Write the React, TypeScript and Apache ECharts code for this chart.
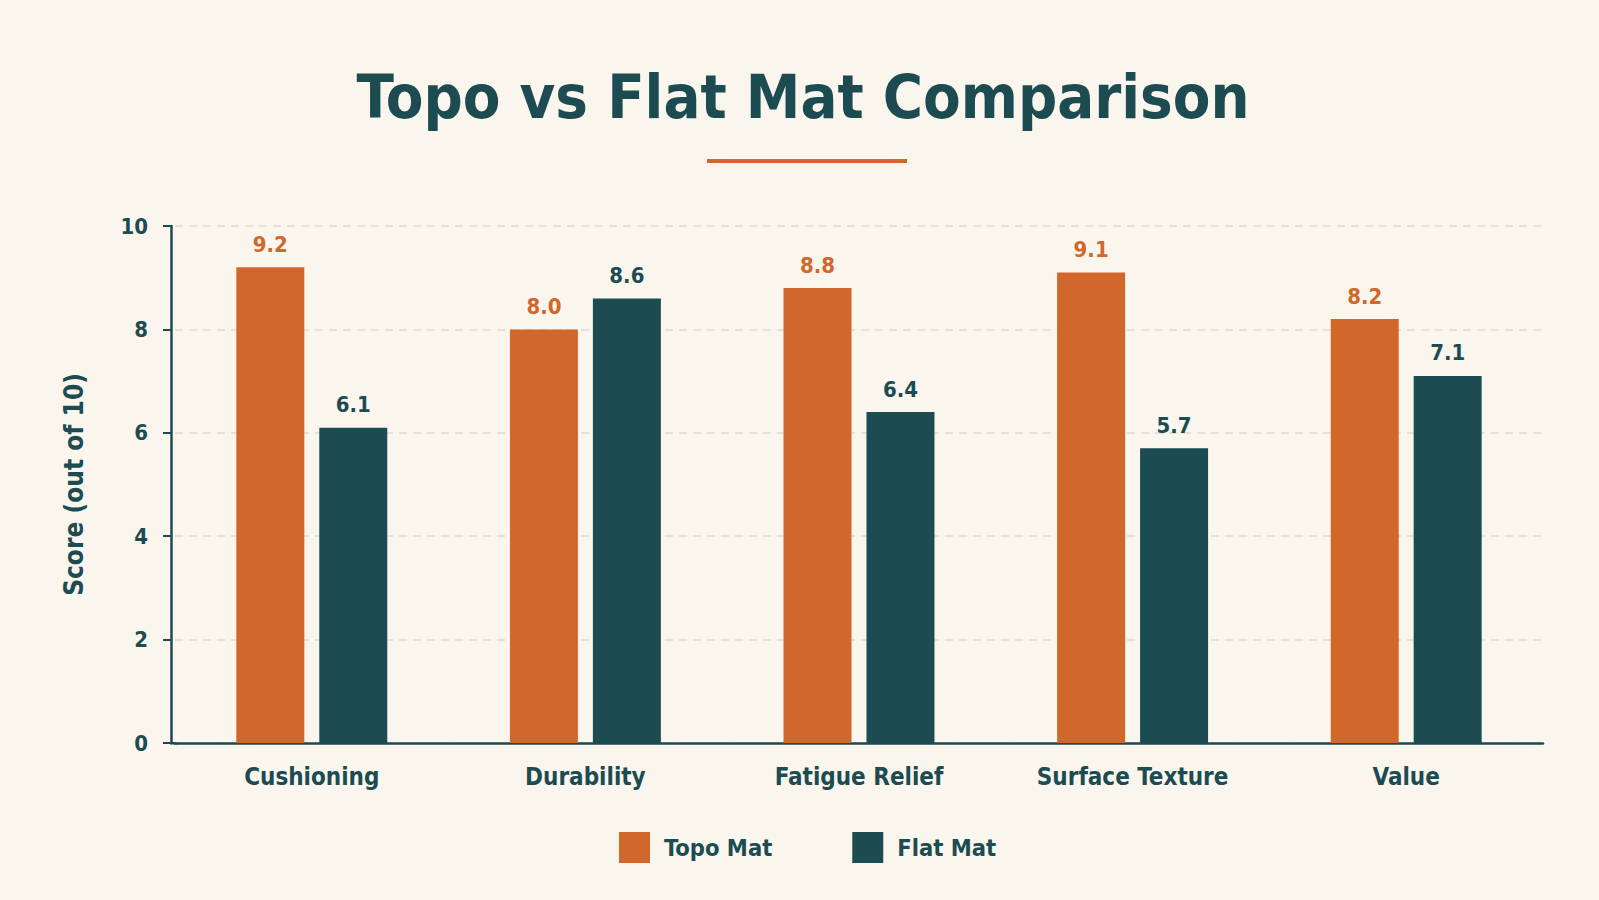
import React, { useEffect, useRef } from "react";
import * as echarts from "echarts";

const categories = ["Cushioning", "Durability", "Fatigue Relief", "Surface Texture", "Value"];
const topoValues = [9.2, 8.0, 8.8, 9.1, 8.2];
const flatValues = [6.1, 8.6, 6.4, 5.7, 7.1];
const seriesNames = ["Topo Mat", "Flat Mat"];
const titleText = "Topo vs Flat Mat Comparison";
const yAxisName = "Score (out of 10)";

const ORANGE = "#D1672B";
const TEAL = "#1D4B52";
const BG = "#FAF6EE";
const FONT = "'DejaVu Sans Condensed', 'DejaVu Sans', sans-serif";

export default function App() {
  const ref = useRef<HTMLDivElement>(null);
  useEffect(() => {
    if (!ref.current) return;
    document.body.style.margin = "0";
    const chart = echarts.init(ref.current, null, { renderer: "svg" });
    chart.setOption({
      animation: false,
      backgroundColor: BG,
      textStyle: { fontFamily: FONT },
      graphic: [
        {
          type: "text",
          x: 803,
          y: 96,
          style: {
            text: titleText,
            font: `bold 61px ${FONT}`,
            fill: TEAL,
            textAlign: "center",
            textVerticalAlign: "middle",
          },
        },
        {
          type: "rect",
          shape: { x: 707, y: 159, width: 200, height: 4 },
          style: { fill: ORANGE },
        },
        {
          type: "rect",
          shape: { x: 170, y: 742, width: 7, height: 2.5 },
          style: { fill: TEAL },
        },
      ],
      legend: {
        data: seriesNames,
        bottom: 32,
        left: 614,
        itemWidth: 31,
        itemHeight: 31,
        itemGap: 80,
        icon: "rect",
        textStyle: { fontSize: 23.5, fontWeight: "bold", color: TEAL, fontFamily: FONT, padding: [0, 0, 0, 9] },
      },
      grid: { left: 175, right: 56, top: 226, bottom: 157, containLabel: false },
      xAxis: {
        type: "category",
        data: categories,
        axisLine: { lineStyle: { color: TEAL, width: 2.5 } },
        axisTick: { show: false },
        axisLabel: { interval: 0, fontSize: 24, fontWeight: "bold", color: TEAL, margin: 22, fontFamily: FONT },
      },
      yAxis: {
        type: "value",
        min: 0,
        max: 10,
        interval: 2,
        offset: 4,
        name: yAxisName,
        nameLocation: "middle",
        nameGap: 84,
        nameRotate: 90,
        nameTextStyle: { fontSize: 26, fontWeight: "bold", color: TEAL, fontFamily: FONT },
        axisLine: { show: true, lineStyle: { color: TEAL, width: 2.5 } },
        axisTick: { show: true, length: 8, lineStyle: { color: TEAL, width: 2 } },
        axisLabel: { fontSize: 22, fontWeight: "bold", color: TEAL, margin: 23, fontFamily: FONT },
        splitLine: { show: true, lineStyle: { color: "#DEDAD2", type: [8, 6], width: 1.5 } },
      },
      series: [
        {
          name: seriesNames[0],
          type: "bar",
          data: topoValues,
          barWidth: 68,
          barGap: "22%",
          itemStyle: { color: ORANGE },
          label: {
            show: true,
            position: "top",
            distance: 12,
            formatter: (p: any) => Number(p.value).toFixed(1),
            fontSize: 22,
            fontWeight: "bold",
            color: ORANGE,
            fontFamily: FONT,
          },
        },
        {
          name: seriesNames[1],
          type: "bar",
          data: flatValues,
          barWidth: 68,
          itemStyle: { color: TEAL },
          label: {
            show: true,
            position: "top",
            distance: 12,
            formatter: (p: any) => Number(p.value).toFixed(1),
            fontSize: 22,
            fontWeight: "bold",
            color: TEAL,
            fontFamily: FONT,
          },
        },
      ],
    });
    return () => chart.dispose();
  }, []);
  return <div ref={ref} style={{ position: "fixed", left: 0, top: 0, width: 1599, height: 900 }} />;
}
